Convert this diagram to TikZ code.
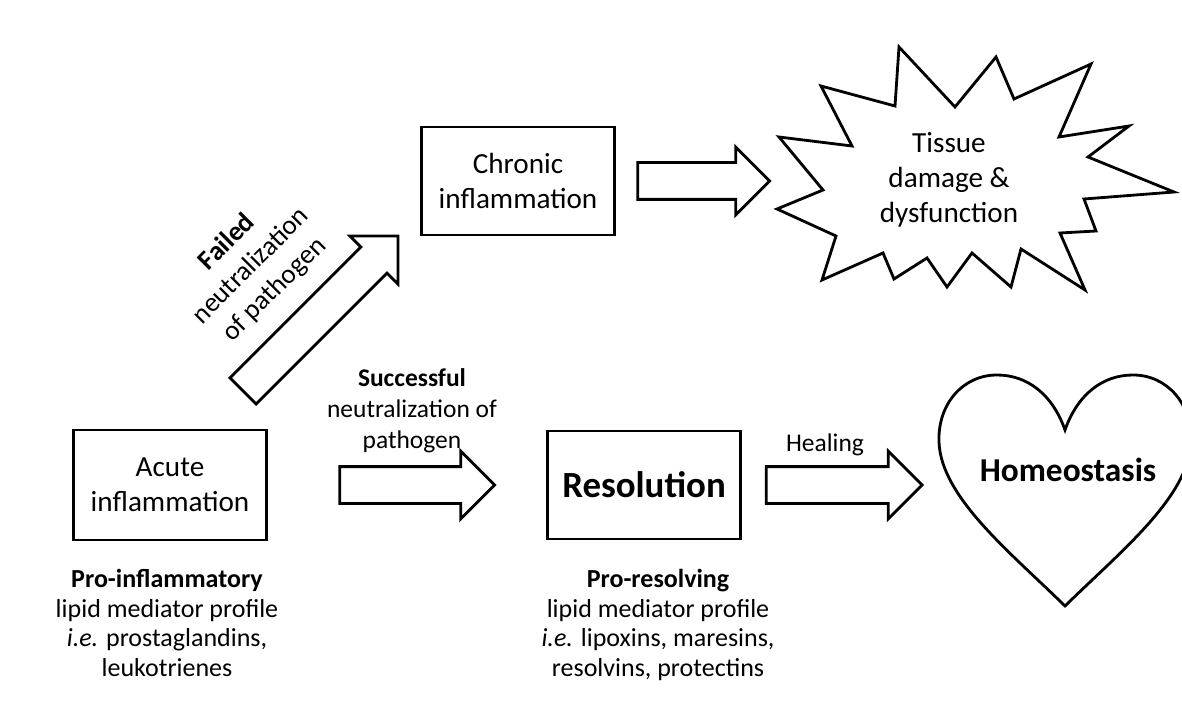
\documentclass[tikz,border=0pt]{standalone}
\usepackage{fontspec}
\setmainfont{Carlito}
\usetikzlibrary{shapes.arrows, calc}

\begin{document}
\begin{tikzpicture}[
                box/.style  ={draw, line width=1.6pt, minimum width=3.86cm,
                        minimum height=2.16cm, align=center,
                        font=\fontsize{16.6}{20}\selectfont},
                fat/.style  ={single arrow, draw, line width=1.6pt, inner xsep=0pt,
                        inner ysep=0.34cm, minimum width=1.3cm,
                        single arrow head extend=0.31cm, single arrow head indent=0pt},
                outl/.style ={draw, line width=1.6pt, line join=miter},
                lbl/.style  ={align=center, font=\fontsize{14.5}{17.5}\selectfont},
                prof/.style ={align=center, font=\fontsize{14.8}{17}\selectfont}
            ]
            \useasboundingbox (0,0) rectangle (23.64,14.34);

            %% ---- TOP: chronic branch ------------------------------------------
            \node[box] (chron) at (10.36,10.72) {Chronic\\inflammation};
            \node[fat, minimum height=2.64cm] (toDamage) at (13.89,10.72) {};
            \draw[outl] (17.98,13.40) -- (19.10,12.20) -- (19.92,13.20) -- (20.28,12.36)
                -- (21.82,13.06) -- (21.18,11.60) -- (22.58,11.82) -- (21.76,11.20)
                -- (23.48,10.50) -- (21.68,10.36) -- (21.92,9.72) -- (21.20,9.68)
                -- (21.70,8.54) -- (20.42,9.36) -- (20.22,8.60) -- (19.44,9.28)
                -- (18.94,8.60) -- (18.54,9.18) -- (17.88,8.76) -- (17.66,9.28)
                -- (16.44,8.74) -- (16.72,9.62) -- (15.54,10.16) -- (16.46,10.54)
                -- (15.58,11.60) -- (17.04,11.42) -- (16.42,12.62) -- (17.90,12.22)
                -- cycle;
            \node[align=center, font=\fontsize{16.6}{20}\selectfont] (damage)
                at (18.98,10.74) {Tissue\\damage \&\\dysfunction};

            %% ---- failed neutralization ----------------------------------------
            \node[fat, minimum height=4.38cm, rotate=45] (toChron) at (6.28,7.94) {};
            \node[align=center, font=\fontsize{15.5}{19}\selectfont, rotate=45] (failed)
                at (5.02,9.02) {\textbf{Failed}\\neutralization\\of pathogen};

            %% ---- BOTTOM: acute -> resolution -> homeostasis -------------------
            \node[box, minimum height=2.20cm] (acute) at (3.40,4.64) {Acute\\inflammation};
            \node[fat, minimum height=3.10cm] (toResol) at (8.16,4.64) {};
            \node[lbl] (success) at (8.24,6.12)
                {\textbf{Successful}\\neutralization of\\pathogen};
            \node[box, font=\fontsize{21}{25}\selectfont\bfseries] (resol)
                at (12.88,4.64) {Resolution};
            \node[fat, minimum height=3.12cm] (toHomeo) at (16.70,4.64) {};
            \node[lbl] (heal) at (16.50,5.44) {Healing};

            \draw[outl] (21.30,5.74) .. controls (21.55,6.45) and (22.05,6.84) .. (22.66,6.84)
                .. controls (23.35,6.84) and (23.85,6.25) .. (23.82,5.50)
                .. controls (23.78,4.40) and (22.40,3.30) .. (21.30,2.22)
                .. controls (20.20,3.30) and (18.82,4.40) .. (18.78,5.50)
                .. controls (18.75,6.25) and (19.25,6.84) .. (19.94,6.84)
                .. controls (20.55,6.84) and (21.05,6.45) .. (21.30,5.74) -- cycle;
            \node[font=\fontsize{19}{23}\selectfont\bfseries] (homeo) at (21.36,4.94) {Homeostasis};

            %% ---- mediator profiles --------------------------------------------
            \node[prof] (proInfl) at (3.34,1.88)
                {\textbf{Pro-inflammatory}\\lipid mediator profile\\\textit{i.e.} prostaglandins,\\leukotrienes};
            \node[prof] (proResol) at (13.16,1.84)
                {\textbf{Pro-resolving}\\lipid mediator profile\\\textit{i.e.} lipoxins, maresins,\\resolvins, protectins};

        \end{tikzpicture}
\end{document}
